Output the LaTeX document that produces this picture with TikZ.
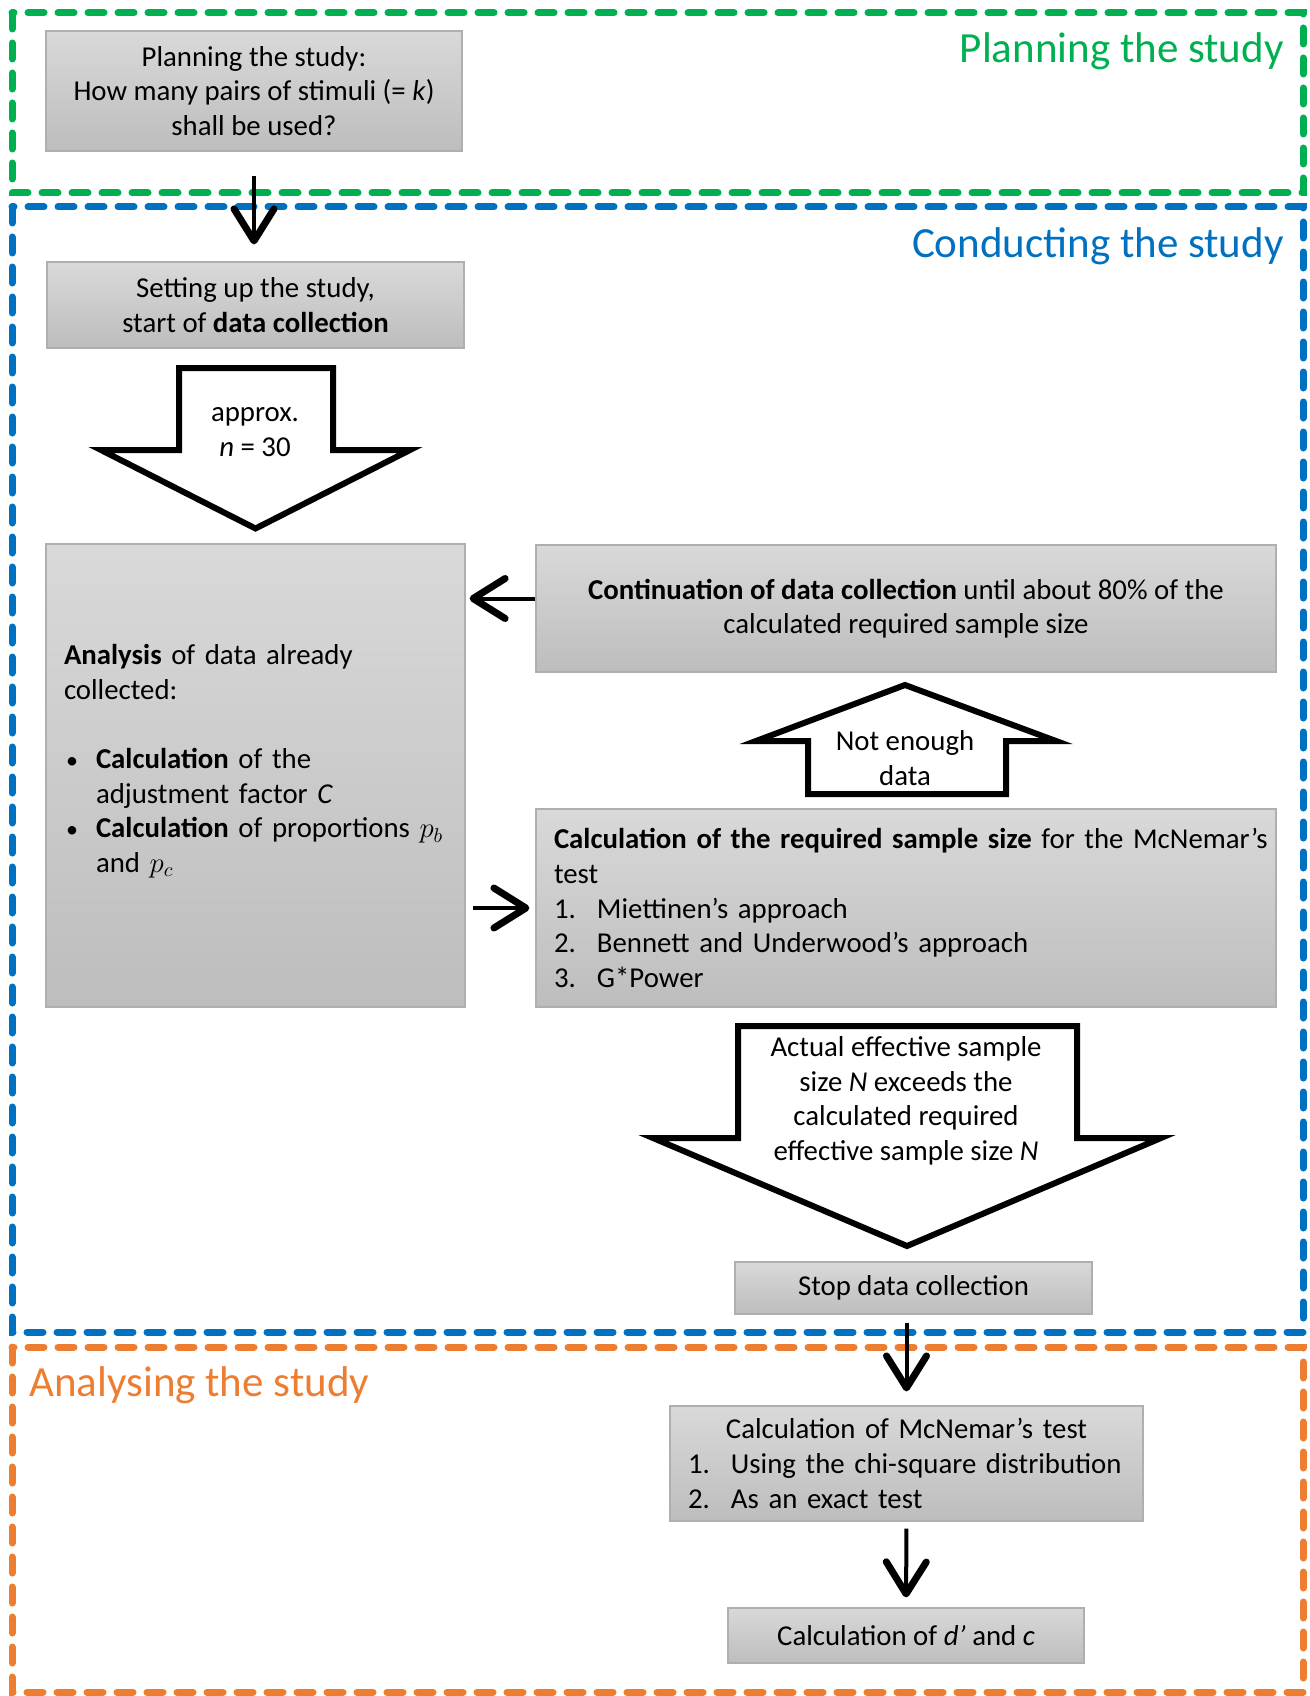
\documentclass[tikz,border=0pt]{standalone}
\usepackage{fontspec}
\setmainfont{Carlito}
\usetikzlibrary{arrows.meta}

\definecolor{plangreen}{RGB}{0,176,80}
\definecolor{condblue}{RGB}{0,112,192}
\definecolor{anaorange}{RGB}{237,125,49}
\definecolor{boxtop}{RGB}{217,217,217}
\definecolor{boxbot}{RGB}{189,189,189}
\definecolor{boxline}{RGB}{175,175,175}

\newcommand{\bul}{\hspace*{1pt}\makebox[15pt][l]{\fontsize{12}{12}\selectfont\textbullet}}
\newcommand{\num}[1]{\makebox[21.5pt][l]{#1}}

\tikzset{
  box/.style={draw=boxline, line width=0.6pt, top color=boxtop, bottom color=boxbot,
    inner sep=0pt, font=\fontsize{14.4}{17.3}\selectfont, align=center},
  frame/.style={line width=3.5pt, line cap=round, dash pattern=on 8pt off 7pt},
  arr/.style={line width=2pt, -{Straight Barb[length=16pt,width=20pt,line width=3.5pt,round]}},
  fat/.style={draw, line width=3pt, fill=white, miter limit=10},
  title/.style={font=\fontsize{21.5}{26}\selectfont, inner sep=0pt},
  txt/.style={font=\fontsize{14.4}{17.3}\selectfont, align=center, inner sep=0pt}
}

\begin{document}
\begin{tikzpicture}[x=0.5pt,y=-0.5pt]
\useasboundingbox (0,0) rectangle (1310,1696);

% phases
\draw[frame, plangreen] (12,13) rectangle (1303,193);
\draw[frame, condblue] (12,207) rectangle (1303,1332);
\draw[frame, anaorange] (12,1347) rectangle (1303,1692);
\node[title, plangreen, anchor=base east] (plantitle) at (1284,63) {Planning the study};
\node[title, condblue, anchor=base east] (condtitle) at (1284,257) {Conducting the study};
\node[title, anaorange, anchor=base west] (anatitle) at (29,1396) {Analysing the study};

% boxes
\node[box, minimum width=208pt, minimum height=60pt] (plan) at (254,91)
  {Planning the study:\\How many pairs of stimuli (= \textit{k})\\shall be used?};
\node[box, minimum width=208.5pt, minimum height=43pt] (setup) at (255.5,305)
  {Setting up the study,\\start of \textbf{data collection}};
\node[box, minimum width=209.5pt, minimum height=231.5pt, text width=191.5pt, align=left] (analysis) at (255.5,775.5)
  {\textbf{Analysis} of data already\\
   collected:\\[17.3pt]
   \bul\textbf{Calculation} of the\\
   \hspace*{16pt}adjustment factor \textit{C}\\
   \bul\textbf{Calculation} of proportions $p_b$\\
   \hspace*{16pt}and $p_c$\rule[-17pt]{0pt}{1pt}};
\node[box, minimum width=370pt, minimum height=63.5pt] (cont) at (906,608.5)
  {\textbf{Continuation of data collection} until about 80\% of the\\calculated required sample size};
\node[box, minimum width=370pt, minimum height=99pt, text width=352pt, align=left] (calc) at (906,908)
  {\mbox{\textbf{Calculation of the required sample size} for the McNemar’s}\\
   test\\
   \num{1.}Miettinen’s approach\\
   \num{2.}Bennett and Underwood’s approach\\
   \num{3.}G*Power};
\node[box, minimum width=178.5pt, minimum height=26pt] (stop) at (913.5,1288) {Stop data collection};
\node[box, minimum width=236.5pt, minimum height=57.5pt, text width=218.5pt, align=left] (mcn) at (906.5,1463.5)
  {\makebox[218.5pt]{Calculation of McNemar’s test}\\
   \num{1.}Using the chi-square distribution\\
   \num{2.}As an exact test};
\node[box, minimum width=178pt, minimum height=27.5pt] (dc) at (906,1635.5) {Calculation of \textit{d’} and \textit{c}};

% block arrows
\draw[fat] (179,368) -- (333,368) -- (333,450) -- (410,450) -- (255.5,528.5) -- (101,450) -- (179,450) -- cycle;
\node[txt] (approx) at (255,432) {approx.\\\textit{n} = 30};
\draw[fat] (808,794) -- (808,741) -- (756,741) -- (905,685) -- (1056,741) -- (1006,741) -- (1006,794) -- cycle;
\node[txt] (notenough) at (905,758) {Not enough\\data};
\draw[fat] (738,1026) -- (1077,1026) -- (1077,1138) -- (1161,1138) -- (907,1246) -- (653,1138) -- (738,1138) -- cycle;
\node[txt] (exceeds) at (906,1101) {Actual effective sample\\size \textit{N} exceeds the\\calculated required\\effective sample size \textit{N}};

% connectors
\path[arr]
(plan.south) edge[shorten <=12pt, shorten >=8.5pt] (plan.south |- setup.north)
([yshift=5pt]cont.west) edge[shorten >=2pt] ([yshift=5pt]cont.west -| analysis.east)
(analysis.east |- calc.west) edge[shorten <=3.5pt, shorten >=3pt] (calc.west)
(stop.south -| mcn.north) edge[shorten <=4pt, shorten >=7pt] (mcn.north)
(mcn.south) edge[shorten <=3.5pt, shorten >=5pt] (dc.north)
;
\end{tikzpicture}
\end{document}
